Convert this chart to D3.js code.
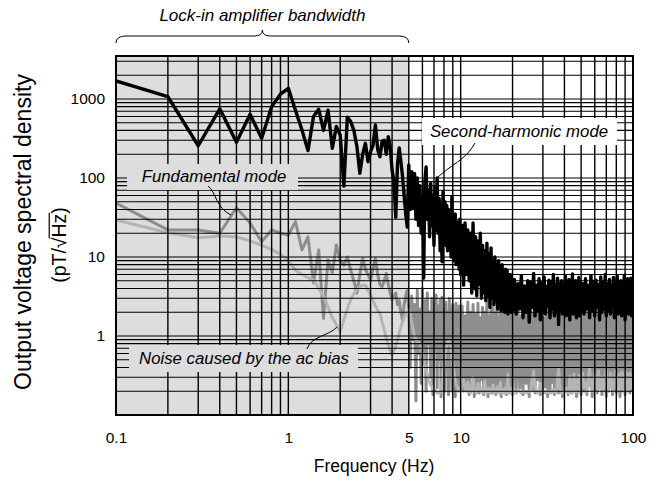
<!DOCTYPE html>
<html><head><meta charset="utf-8">
<script src="https://cdn.jsdelivr.net/npm/d3@7"></script>
<style>body{margin:0;background:#fff}svg{display:block}text{font-family:"Liberation Sans",Arial,Helvetica,sans-serif}</style>
</head><body><svg id="c" width="660" height="481"></svg>
<script>
// sample grid: [start, step, count]
const freqSegments = [[0.1,0.1,50],[5.1,0.1,50],[10.2,0.2,50],[20.5,0.5,60],[51,1,50]];

const secondHarmonic = [
 1690,1070,256,750,283,640,318,800,1150,1365,
 720,405,222,600,740,400,720,238,450,350,
 79,590,520,400,250,115,200,275,160,215,
 260,470,230,186,290,300,200,333,250,126,
 90,32,150,240,160,104,60,35,24,146,
 40,120,41,114,30,100,25,80,20,60,
 5.4,90,138,30,70,18,85,25,60,14,
 75,22,100,20,55,12,45,8.7,67,15,
 50,14,45,12,40,15,35,10,58,12,
 30,9,35,8,28,10,25,7,30,6,
 25,4.4,27,6,22,5,20,3.5,27,4,18,3.2,16,4.5,20,3,14,3.5,12,2.8,15,3.2,11,2.3,13,
 3,9,2.5,10,2.8,8,2.2,9,2.6,7,2.1,8,2.4,6,2.0,7,2.2,6.8,1.9,5.5,2.3,6,2.0,5,2.1,
 5.2,1.9,4.6,2.2,5.8,1.7,4.3,2.0,5.0,1.5,4.8,2.3,6.2,1.8,4.4,2.1,5.3,1.6,4.7,2.0,
 5.6,1.9,4.2,2.4,5.1,1.7,4.9,2.2,6.0,1.8,4.5,2.0,5.4,1.4,4.6,2.1,5.0,1.9,4.3,2.3,
 5.7,1.8,4.8,2.0,5.2,1.6,4.4,2.2,6.1,1.9,4.7,2.1,5.0,1.7,4.5,2.3,5.5,1.8,4.9,2.0,
 4.6,1.9,5.3,2.2,4.4,1.7,5.8,2.1,4.9,1.8,5.1,2.3,4.5,1.6,5.6,2.0,4.8,2.2,6.0,1.8,4.6,2.1,5.2,1.9,4.4,
 2.3,5.5,1.7,4.9,2.0,5.7,1.9,4.5,2.2,5.0,1.8,4.7,2.1,5.9,1.6,4.8,2.2,5.3,1.9,4.6,2.0,5.4,1.8,5.0,2.2
];
const fundamental = [
 48,22,22,20,42,27,15.6,22,20,19,
 28,12.3,18,4.7,12.3,1.67,9.2,6.3,14.2,9,
 7.9,10,6.8,5,3.5,6,9.6,7,6,5.1,
 7,9.6,6,4.5,4.2,5,6.2,4.5,3.5,2.9,
 3.2,3.5,2.5,2.8,2.0,1.59,2.5,3.2,3.8,2.1,
 0.4,3.2,0.9,2.5,0.15,3.8,0.6,2.2,0.25,4.0,
 0.5,2.8,0.2,3.5,0.8,2.0,0.3,3.0,0.18,2.6,
 0.7,3.3,0.22,2.4,0.5,2.9,0.17,3.1,0.4,2.2,
 0.2,2.7,0.6,2.0,0.18,3.0,0.3,2.3,0.2,2.5,
 0.5,1.9,0.17,2.6,0.3,2.1,0.2,2.4,0.25,1.8,
 2.4,0.2,1.8,0.25,2.7,0.18,2.0,0.3,2.5,0.17,1.9,0.22,2.6,0.19,1.7,0.28,2.3,0.18,2.0,0.24,2.8,0.17,1.8,0.21,2.2,
 0.19,2.5,0.26,1.9,0.18,2.4,0.2,1.7,0.23,2.6,0.17,2.1,0.2,1.8,0.27,2.3,0.18,2.0,0.22,2.7,0.19,1.9,0.2,2.4,0.18,
 2.2,0.19,2.6,0.22,1.8,0.18,2.4,0.25,2.0,0.17,2.7,0.21,1.9,0.19,2.3,0.28,2.1,0.18,2.5,0.2,
 1.7,0.23,2.6,0.17,2.2,0.2,1.9,0.26,2.4,0.18,2.0,0.21,2.8,0.19,1.8,0.24,2.3,0.17,2.1,0.2,
 2.5,0.22,1.9,0.18,2.4,0.27,2.0,0.19,2.6,0.2,1.8,0.23,2.2,0.17,2.5,0.2,2.0,0.25,2.3,0.18,
 2.1,0.2,2.5,0.18,1.9,0.24,2.4,0.17,2.2,0.21,2.7,0.19,1.8,0.26,2.3,0.18,2.0,0.22,2.6,0.17,2.1,0.2,1.9,0.25,2.4,
 0.18,2.2,0.21,2.8,0.19,2.0,0.23,2.5,0.17,1.9,0.2,2.3,0.26,2.1,0.18,2.6,0.2,2.0,0.22,2.4,0.19,2.2,0.24,2.5,0.2
];
const acBiasNoise = [
 29.4,20.3,17.5,18.5,18,16,14,12.5,10.8,9,
 6.8,6.0,5.5,5.1,4.0,3.2,2.3,1.7,1.4,1.13,
 1.6,2.2,2.9,3.4,3.9,4.2,4.4,4.4,3.8,3.3,
 2.8,2.4,2.1,1.96,1.5,1.2,0.95,0.78,0.65,0.57,
 0.65,0.75,0.89,1.1,1.3,1.5,1.7,1.85,2.0,2.2,
 1.9,1.5,1.2,1.0,0.9,0.85,0.82,0.8,0.7,0.6,
 0.5,0.43,0.38,0.33,0.29,0.26,0.24,0.23,0.22,0.21,
 0.2,0.2,0.19,0.19,0.19,0.19,0.22,0.27,0.35,0.45,
 0.55,0.65,0.75,0.82,0.87,0.89,0.8,0.68,0.55,0.45,
 0.38,0.32,0.28,0.25,0.23,0.22,0.21,0.22,0.21,0.21,
 0.24,0.28,0.22,0.2,0.26,0.21,0.19,0.23,0.3,0.22,0.2,0.19,0.25,0.21,0.2,0.22,0.19,0.2,0.27,0.21,0.19,0.2,0.22,0.19,0.21,
 0.2,0.24,0.19,0.2,0.21,0.19,0.23,0.2,0.19,0.26,0.2,0.19,0.21,0.2,0.19,0.22,0.2,0.19,0.33,0.21,0.19,0.2,0.2,0.22,0.19,
 0.2,0.19,0.21,0.2,0.19,0.2,0.19,0.2,0.19,0.2,0.2,0.28,0.36,0.22,0.2,0.19,0.2,0.25,0.2,0.19,
 0.2,0.19,0.2,0.2,0.19,0.2,0.19,0.2,0.21,0.2,0.19,0.2,0.3,0.38,0.24,0.2,0.19,0.2,0.19,0.2,
 0.2,0.22,0.2,0.19,0.2,0.31,0.23,0.2,0.19,0.26,0.33,0.22,0.2,0.28,0.2,0.19,0.32,0.24,0.2,0.27,
 0.34,0.22,0.26,0.2,0.3,0.38,0.23,0.2,0.27,0.33,0.22,0.2,0.36,0.26,0.21,0.3,0.24,0.2,0.32,0.37,0.22,0.2,0.28,0.34,0.22,
 0.26,0.2,0.31,0.36,0.23,0.2,0.29,0.33,0.21,0.27,0.35,0.22,0.2,0.3,0.36,0.24,0.2,0.33,0.28,0.21,0.34,0.26,0.22,0.31,0.25
];
const xTickValues = [0.1, 1, 5, 10, 100];
const yTickValues = [1, 10, 100, 1000];
const bandwidthLimit = 5;

const freq = freqSegments.flatMap(([s, st, n]) => d3.range(n).map(i => +(s + i * st).toFixed(2)));

const svg = d3.select("#c");
const L = 116, R = 633, T = 56, B = 415;
const x = d3.scaleLog().domain([0.1, 100]).range([L, R]);
const y = d3.scaleLog().domain([0.1, 3500]).range([B, T]);

const SHADE = "#dddddd";
svg.append("defs").append("clipPath").attr("id", "clip")
  .append("rect").attr("x", L).attr("y", T).attr("width", R - L).attr("height", B - T);

// shaded lock-in bandwidth region
svg.append("rect").attr("x", x(0.1)).attr("y", T).attr("width", x(bandwidthLimit) - x(0.1)).attr("height", B - T).attr("fill", SHADE);

// data
const line = d3.line().x(d => x(d[0])).y(d => y(d[1]));
const dataG = svg.append("g").attr("clip-path", "url(#clip)");
const mk = arr => freq.map((f, i) => [f, arr[i]]);
dataG.append("path").attr("d", line(mk(fundamental))).attr("fill", "none").attr("stroke", "#8e8e8e").attr("stroke-width", 3).attr("stroke-linejoin", "round");
dataG.append("path").attr("d", line(mk(acBiasNoise))).attr("fill", "none").attr("stroke", "#b4b4b4").attr("stroke-width", 3).attr("stroke-linejoin", "round");
dataG.append("path").attr("d", line(mk(secondHarmonic))).attr("fill", "none").attr("stroke", "#000").attr("stroke-width", 3.4).attr("stroke-linejoin", "round");

// grid
const vGrid = [], hGrid = [];
for (let k = -1; k <= 1; k++) for (let m = 1; m <= 9; m++) { const v = m * Math.pow(10, k); if (v > 0.1 + 1e-9 && v < 100 - 1e-9) vGrid.push(v); }
for (let k = -1; k <= 3; k++) for (let m = 1; m <= 9; m++) { const v = m * Math.pow(10, k); if (v > 0.1 + 1e-9 && v < 3500) hGrid.push(v); }
const gridG = svg.append("g");
gridG.selectAll("line.v").data(vGrid).join("line").attr("class", "v")
  .attr("x1", d => x(d)).attr("x2", d => x(d)).attr("y1", T).attr("y2", B).attr("stroke", "#000").attr("stroke-width", 1.4);
gridG.selectAll("line.h").data(hGrid).join("line").attr("class", "h")
  .attr("x1", L).attr("x2", R).attr("y1", d => y(d)).attr("y2", d => y(d)).attr("stroke", "#000").attr("stroke-width", 1.1);

// frame
svg.append("rect").attr("x", L).attr("y", T).attr("width", R - L).attr("height", B - T).attr("fill", "none").attr("stroke", "#000").attr("stroke-width", 2);

// axes
const xAxis = svg.append("g").attr("transform", `translate(0,${B + 14})`)
  .call(d3.axisBottom(x).tickValues(xTickValues).tickSize(0).tickFormat(d => String(d)));
xAxis.select(".domain").remove();
xAxis.selectAll("text").attr("font-size", 15.5).attr("font-family", "Liberation Sans, Arial, sans-serif").attr("fill", "#000");
const yAxis = svg.append("g").attr("transform", `translate(${L - 8},0)`)
  .call(d3.axisLeft(y).tickValues(yTickValues).tickSize(0).tickFormat(d => String(d)));
yAxis.select(".domain").remove();
yAxis.selectAll("text").attr("font-size", 15.5).attr("font-family", "Liberation Sans, Arial, sans-serif").attr("fill", "#000");

svg.append("text").attr("x", 374).attr("y", 472).attr("text-anchor", "middle").attr("font-size", 17.5).text("Frequency (Hz)");

// y title
svg.append("text").attr("transform", "translate(31,232) rotate(-90)").attr("text-anchor", "middle").attr("font-size", 23).text("Output voltage spectral density");
const yt = svg.append("g").attr("transform", "translate(66,245) rotate(-90)");
const fs2 = 19.5;
const p1 = yt.append("text").attr("font-size", fs2).text("(pT/\u221A");
const w1 = p1.node().getComputedTextLength();
const p2 = yt.append("text").attr("font-size", fs2).text("Hz");
const w2 = p2.node().getComputedTextLength();
const p3 = yt.append("text").attr("font-size", fs2).text(")");
const w3 = p3.node().getComputedTextLength();
const tot = w1 + w2 + w3, x0 = -tot / 2;
p1.attr("x", x0); p2.attr("x", x0 + w1); p3.attr("x", x0 + w1 + w2);
yt.append("line").attr("x1", x0 + w1 - 1).attr("x2", x0 + w1 + w2 + 1).attr("y1", -fs2 * 0.86).attr("y2", -fs2 * 0.86).attr("stroke", "#000").attr("stroke-width", 1.2);

// brace + bandwidth label
const bm = (x(0.1) + x(bandwidthLimit)) / 2;
svg.append("path").attr("d", `M${x(0.1)},43 Q${x(0.1)},36 ${x(0.1) + 10},36 L${bm - 8},36 Q${bm},36 ${bm},30 Q${bm},36 ${bm + 8},36 L${x(bandwidthLimit) - 10},36 Q${x(bandwidthLimit)},36 ${x(bandwidthLimit)},43`)
  .attr("fill", "none").attr("stroke", "#000").attr("stroke-width", 1);
svg.append("text").attr("x", bm).attr("y", 21).attr("text-anchor", "middle").attr("font-size", 17).attr("font-style", "italic").text("Lock-in amplifier bandwidth");

// annotation labels
const notes = [
  {t: "Fundamental mode", box: [127, 164, 171, 26], fill: SHADE, tx: 214, ty: 182, lead: "M208,186 C216,192 216,208 231,215"},
  {t: "Second-harmonic mode", box: [422, 118, 195, 27], fill: "#fff", tx: 519, ty: 137, lead: "M475,143 C466,160 450,165 437,178"},
  {t: "Noise caused by the ac bias", box: [129, 345, 229, 27], fill: SHADE, tx: 244, ty: 364, lead: "M307,349 C311,336 329,336 337,327"}
];
notes.forEach(n => {
  svg.append("rect").attr("x", n.box[0]).attr("y", n.box[1]).attr("width", n.box[2]).attr("height", n.box[3]).attr("fill", n.fill);
  svg.append("text").attr("x", n.tx).attr("y", n.ty).attr("text-anchor", "middle").attr("font-size", 16.8).attr("font-style", "italic").text(n.t);
  svg.append("path").attr("d", n.lead).attr("fill", "none").attr("stroke", "#000").attr("stroke-width", 1);
});
</script></body></html>
